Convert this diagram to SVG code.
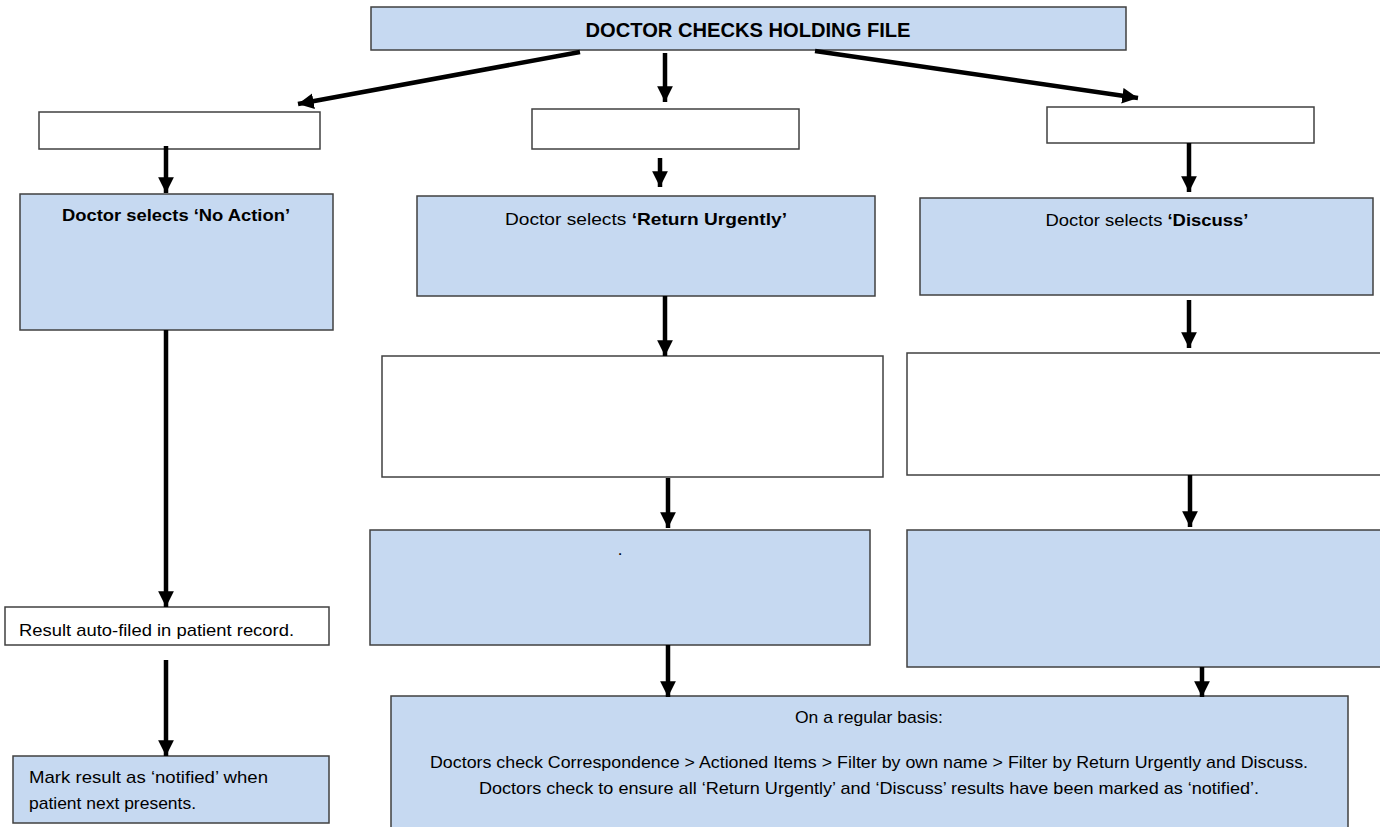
<svg xmlns="http://www.w3.org/2000/svg" width="1380" height="827" viewBox="0 0 1380 827">
<style>
.blue{fill:#c6d9f1;stroke:#404040;stroke-width:1.5}
.white{fill:#ffffff;stroke:#404040;stroke-width:1.5}
text{font-family:"Liberation Sans",Arial,sans-serif;fill:#000}
.t{font-size:17px}
.b{font-weight:bold}
.title{font-size:20px;font-weight:bold}
.conn line{stroke:#000;stroke-width:4.5}
</style>
<defs>
<marker id="ah" viewBox="0 0 10 10" refX="10" refY="5" markerWidth="3.5" markerHeight="3.5" orient="auto" markerUnits="strokeWidth">
<path d="M0,0 L10,5 L0,10 z" fill="#000"/>
</marker>
</defs>
<rect width="1380" height="827" fill="#fff"/>
<g id="n-top"><rect class="blue" x="371" y="7" width="755" height="43"/><text class="title" x="748" y="37" text-anchor="middle" textLength="325" lengthAdjust="spacingAndGlyphs">DOCTOR CHECKS HOLDING FILE</text></g>
<g id="n-w1"><rect class="white" x="39" y="112" width="281" height="37"/></g>
<g id="n-w2"><rect class="white" x="532" y="109" width="267" height="40"/></g>
<g id="n-w3"><rect class="white" x="1047" y="107" width="267" height="36"/></g>
<g id="n-noaction"><rect class="blue" x="20" y="194" width="313" height="136"/><text class="t b" x="176" y="221" text-anchor="middle" textLength="228" lengthAdjust="spacingAndGlyphs">Doctor selects ‘No Action’</text></g>
<g id="n-return"><rect class="blue" x="417" y="196" width="458" height="100"/><text class="t" x="646" y="225" text-anchor="middle" textLength="282" lengthAdjust="spacingAndGlyphs">Doctor selects <tspan class="b">‘Return Urgently’</tspan></text></g>
<g id="n-discuss"><rect class="blue" x="920" y="198" width="453" height="97"/><text class="t" x="1147" y="226" text-anchor="middle" textLength="203" lengthAdjust="spacingAndGlyphs">Doctor selects <tspan class="b">‘Discuss’</tspan></text></g>
<g id="n-w4"><rect class="white" x="382" y="356" width="501" height="121"/></g>
<g id="n-w5"><rect class="white" x="907" y="353" width="480" height="122"/></g>
<g id="n-b5"><rect class="blue" x="370" y="530" width="500" height="115"/><text class="t" x="620" y="555" text-anchor="middle">.</text></g>
<g id="n-b6"><rect class="blue" x="907" y="530" width="480" height="137"/></g>
<g id="n-autofiled"><rect class="white" x="5" y="607" width="324" height="38"/><text class="t" x="19" y="636" textLength="275" lengthAdjust="spacingAndGlyphs">Result auto-filed in patient record.</text></g>
<g id="n-mark"><rect class="blue" x="13" y="756" width="316" height="67"/><text class="t" x="29" y="783" textLength="239" lengthAdjust="spacingAndGlyphs">Mark result as ‘notified’ when</text><text class="t" x="29" y="809" textLength="167" lengthAdjust="spacingAndGlyphs">patient next presents.</text></g>
<g id="n-regular"><rect class="blue" x="391" y="696" width="957" height="140"/>
<text class="t" x="869" y="723" text-anchor="middle" textLength="148" lengthAdjust="spacingAndGlyphs">On a regular basis:</text>
<text class="t" x="869" y="768" text-anchor="middle" textLength="878" lengthAdjust="spacingAndGlyphs">Doctors check Correspondence &gt; Actioned Items &gt; Filter by own name &gt; Filter by Return Urgently and Discuss.</text>
<text class="t" x="869" y="794" text-anchor="middle" textLength="780" lengthAdjust="spacingAndGlyphs">Doctors check to ensure all ‘Return Urgently’ and ‘Discuss’ results have been marked as ‘notified’.</text></g>
<g id="connectors" class="conn">
<line x1="580" y1="52" x2="298" y2="104" marker-end="url(#ah)"/>
<line x1="665" y1="53" x2="665" y2="102" marker-end="url(#ah)"/>
<line x1="815" y1="51" x2="1138" y2="98" marker-end="url(#ah)"/>
<line x1="166" y1="146" x2="166" y2="193" marker-end="url(#ah)"/>
<line x1="660" y1="158" x2="660" y2="187" marker-end="url(#ah)"/>
<line x1="1189" y1="143" x2="1189" y2="192" marker-end="url(#ah)"/>
<line x1="166" y1="330" x2="166" y2="607" marker-end="url(#ah)"/>
<line x1="665" y1="296" x2="665" y2="356" marker-end="url(#ah)"/>
<line x1="1189" y1="300" x2="1189" y2="348" marker-end="url(#ah)"/>
<line x1="668" y1="478" x2="668" y2="528" marker-end="url(#ah)"/>
<line x1="1190" y1="475" x2="1190" y2="527" marker-end="url(#ah)"/>
<line x1="166" y1="660" x2="166" y2="756" marker-end="url(#ah)"/>
<line x1="668" y1="645" x2="668" y2="697" marker-end="url(#ah)"/>
<line x1="1202" y1="667" x2="1202" y2="697" marker-end="url(#ah)"/>
</g>
</svg>
